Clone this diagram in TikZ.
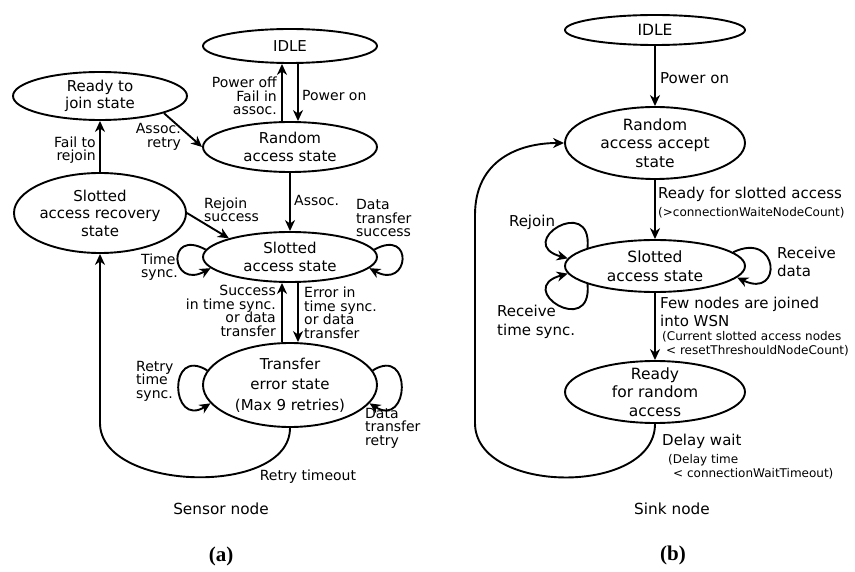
\documentclass[tikz,border=0pt]{standalone}
\usepackage{fontspec}
\setmainfont{DejaVu Sans}
\newfontfamily\capfont{Liberation Serif}
\usetikzlibrary{arrows.meta, shapes.geometric, calc}
\lineskiplimit=-100pt

\tikzset{
    state/.style={draw, ellipse, line width=1.9pt, inner sep=0pt, align=center, font=\fontsize{15}{17.5}\selectfont},
    stateb/.style={state, minimum width=180pt, font=\fontsize{15.5}{18.5}\selectfont},
    arr/.style={line width=1.9pt, -{Stealth[length=11pt, width=10pt, inset=3.5pt]}},
    lbl/.style={inner sep=0pt, font=\fontsize{14}{13.5}\selectfont},
    lblb/.style={inner sep=0pt, font=\fontsize{15}{18.5}\selectfont},
    smalllbl/.style={inner sep=0pt, font=\fontsize{12}{14}\selectfont},
    captext/.style={inner sep=0pt, font=\fontsize{15.3}{18}\selectfont},
    subcap/.style={inner sep=0pt, font=\capfont\bfseries\fontsize{21}{22}\selectfont}
}

\begin{document}
\begin{tikzpicture}[x=1pt, y=1pt]
    \useasboundingbox (0,0) rectangle (855,-572);

    % (a) sensor node
    \node[state, minimum width=174pt, minimum height=34pt] (idleA) at (290,-46) {IDLE};
    \node[state, minimum width=174pt, minimum height=48pt] (readyA) at (100,-96) {Ready to\\join state};
    \node[state, minimum width=174pt, minimum height=50pt] (randA) at (290,-147) {Random\\access state};
    \node[state, minimum width=172pt, minimum height=80pt, inner xsep=-4pt] (recovA) at (100,-213) {Slotted\\access recovery\\state};
    \node[state, minimum width=174pt, minimum height=50pt] (slotA) at (290,-257) {Slotted\\access state};
    \node[state, minimum width=174pt, minimum height=84pt, inner ysep=-2pt, font=\fontsize{15}{20.5}\selectfont] (errA) at (290,-385) {Transfer\\error state\\(Max 9 retries)};

    \draw[arr] ([xshift=-8pt]randA.north) -- ([xshift=-8pt]idleA.south);
    \draw[arr] ([xshift=8pt]idleA.south) -- ([xshift=8pt]randA.north);
    \draw[arr] (readyA.-15) -- (randA.west);
    \draw[arr] (recovA.north) -- (readyA.south);
    \draw[arr] (recovA.east) -- (slotA.163);
    \draw[arr] (randA) -- (slotA);
    \draw[arr] ([xshift=-8pt]errA.north) -- ([xshift=-8pt]slotA.south);
    \draw[arr] ([xshift=8pt]slotA.south) -- ([xshift=8pt]errA.north);

    \draw[arr] (slotA.175) .. controls +(-40,22) and +(-40,-22) .. (slotA.188);
    \draw[arr] (slotA.5) .. controls +(40,22) and +(40,-22) .. (slotA.-8);
    \draw[arr] (errA.170) .. controls +(-40,25) and +(-40,-25) .. (errA.193);
    \draw[arr] (errA.10) .. controls +(40,25) and +(40,-25) .. (errA.-13);

    \coordinate (bendA) at (100,-423);
    \draw[arr] (errA.south) .. controls +(0,-69) and +(0,-69) .. (bendA) -- (recovA.south);

    \node[lbl, anchor=east, align=right] (offA) at (277,-96) {Power off\\Fail in\\assoc.};
    \node[lbl, anchor=west] (onA) at (302,-95) {Power on};
    \node[lbl, anchor=east, align=right] (retryA) at (181,-137) {Assoc.\\retry};
    \node[lbl, anchor=east, align=right] (failA) at (96,-150) {Fail to\\rejoin};
    \node[lbl, anchor=west, align=left] (rejA) at (204,-210) {Rejoin\\success};
    \node[lbl, anchor=west] (assocA) at (294,-200) {Assoc.};
    \node[lbl, anchor=west, align=left] (dtsA) at (356,-218) {Data\\transfer\\success};
    \node[lbl, anchor=west, align=left] (tsA) at (141,-267) {Time\\sync.};
    \node[lbl, anchor=east, align=right] (succA) at (276,-311) {Success\\in time sync.\\or data\\transfer};
    \node[lbl, anchor=west, align=left] (errlA) at (304,-313) {Error in\\time sync.\\or data\\transfer};
    \node[lbl, anchor=west, align=left] (rtsA) at (136,-381) {Retry\\time\\sync.};
    \node[lbl, anchor=west, align=left] (dtrA) at (365,-428) {Data\\transfer\\retry};
    \node[lbl] (rtoA) at (308,-477) {Retry timeout};
    \node[captext] (sensor) at (221,-509) {Sensor node};
    \node[subcap] (subA) at (221,-556) {(a)};

    % (b) sink node
    \node[stateb, minimum height=30pt] (idleB) at (655,-30) {IDLE};
    \node[stateb, minimum height=72pt, inner ysep=-4pt] (randB) at (655,-143) {Random\\access accept\\state};
    \node[stateb, minimum height=52pt] (slotB) at (655,-266) {Slotted\\access state};
    \node[stateb, minimum height=62pt, inner ysep=-7pt] (readyB) at (655,-392) {Ready\\for random\\access};

    \draw[arr] (idleB) -- (randB);
    \draw[arr] (randB) -- (slotB);
    \draw[arr] (slotB) -- (readyB);

    \draw[arr] (slotB.165) .. controls +(5,55) and +(-55,15) .. (slotB.175);
    \draw[arr] (slotB.195) .. controls +(5,-55) and +(-55,-15) .. (slotB.185);
    \draw[arr] (slotB.10) .. controls +(46,22) and +(46,-22) .. (slotB.-8);

    \coordinate (bendB1) at (475,-423);
    \coordinate (bendB2) at (475,-215);
    \draw[arr] (readyB.south) .. controls +(0,-72) and +(0,-72) .. (bendB1) -- (bendB2) .. controls +(0,55) and +(-45,0) .. (randB.west);

    \node[lblb, anchor=west] (onB) at (660,-78) {Power on};
    \node[lblb, anchor=west] (rfsB) at (658,-194) {Ready for slotted access};
    \node[smalllbl, anchor=west] (cntB) at (658,-213) {(>connectionWaiteNodeCount)};
    \node[lblb] (rejB) at (532,-222) {Rejoin};
    \node[lblb, anchor=west, align=left] (rtsB) at (497,-322) {Receive\\time sync.};
    \node[lblb, anchor=west, align=left] (rdB) at (777,-262) {Receive\\data};
    \node[lblb, anchor=west, align=left] (fewB) at (660,-312) {Few nodes are joined\\into WSN};
    \node[smalllbl, anchor=west, align=left] (curB) at (662,-344) {(Current slotted access nodes\\\hspace*{4pt}< resetThreshouldNodeCount)};
    \node[lblb, anchor=west] (dwB) at (662,-441) {Delay wait};
    \node[smalllbl, anchor=west, align=left] (dtB) at (668,-467) {(Delay time\\\hspace*{5pt}< connectionWaitTimeout)};
    \node[captext] (sink) at (672,-509) {Sink node};
    \node[subcap] (subB) at (673,-555) {(b)};
\end{tikzpicture}
\end{document}
